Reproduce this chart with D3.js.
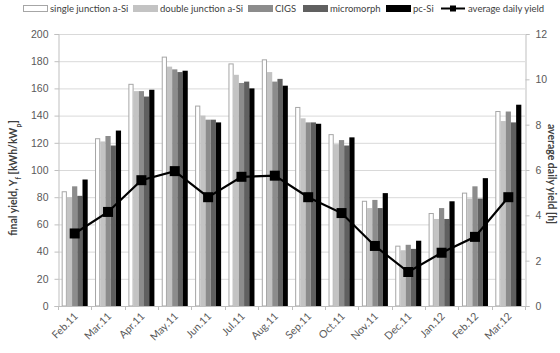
<!DOCTYPE html>
<html>
<head>
<meta charset="utf-8">
<script src="https://cdn.jsdelivr.net/npm/d3@7"></script>
<style>
  html, body { margin: 0; padding: 0; background: #fff; }
  svg { display: block; font-family: Lato, "DejaVu Sans Condensed", Arial, sans-serif; }
</style>
</head>
<body>
<svg id="chart" width="560" height="353"></svg>
<script>
// Monthly final yield per PV technology and the average daily yield
const months = ["Feb.11","Mar.11","Apr.11","May.11","Jun.11","Jul.11","Aug.11",
                "Sep.11","Oct.11","Nov.11","Dec.11","Jan.12","Feb.12","Mar.12"];
const seriesNames = ["single junction a-Si","double junction a-Si","CIGS","micromorph","pc-Si"];
const singleJunction = [84,123,163,183,147,178,181,146,126,77,44,68,83,143];
const doubleJunction = [80,121,158,176,140,170,172,138,119,72,41,64,79,136];
const cigs           = [88,125,158,174,137,164,165,135,122,78,45,72,88,143];
const micromorph     = [81,118,154,172,137,165,167,135,118,72,42,64,79,135];
const pcSi           = [93,129,159,173,135,160,162,134,124,83,48,77,94,148];
const avgDailyYield  = [3.2,4.15,5.55,5.95,4.8,5.7,5.75,4.8,4.1,2.65,1.5,2.35,3.05,4.8];
const leftTicks  = [0,20,40,60,80,100,120,140,160,180,200];
const rightTicks = [0,2,4,6,8,10,12];

const fills   = ["#ffffff","#c3c3c3","#8c8c8c","#606060","#000000"];
const strokes = ["#a6a6a6","none","none","none","none"];
const values = [singleJunction, doubleJunction, cigs, micromorph, pcSi];

const svg = d3.select("#chart");
const plotLeft = 58, plotRight = 525, plotTop = 34, plotBottom = 306;

const x0 = d3.scaleBand().domain(months).range([plotLeft, plotRight]).paddingInner(0.22).paddingOuter(0.11);
const x1 = d3.scaleBand().domain(d3.range(seriesNames.length)).range([0, x0.bandwidth()]);
const y  = d3.scaleLinear().domain([0, 200]).range([plotBottom, plotTop]);
const y2 = d3.scaleLinear().domain([0, 12]).range([plotBottom, plotTop]);

const axisColor = "#bfbfbf", gridColor = "#d9d9d9", textColor = "#595959";
const tickFont = 10.5;

// horizontal gridlines
svg.append("g").selectAll("line").data(leftTicks.filter(d => d > 0)).join("line")
  .attr("x1", plotLeft).attr("x2", plotRight)
  .attr("y1", d => y(d) + 0.5).attr("y2", d => y(d) + 0.5)
  .attr("stroke", gridColor).attr("stroke-width", 1);

// left axis
const gL = svg.append("g").attr("transform", `translate(${plotLeft + 0.5},0)`)
  .call(d3.axisLeft(y).tickValues(leftTicks).tickSize(4).tickPadding(6));
gL.select(".domain").attr("stroke", axisColor);
gL.selectAll(".tick line").attr("stroke", axisColor);
gL.selectAll(".tick text").attr("fill", textColor).attr("font-size", tickFont).attr("font-family", null);

// right axis
const gR = svg.append("g").attr("transform", `translate(${plotRight + 0.5},0)`)
  .call(d3.axisRight(y2).tickValues(rightTicks).tickSize(4).tickPadding(6));
gR.select(".domain").attr("stroke", axisColor);
gR.selectAll(".tick line").attr("stroke", axisColor);
gR.selectAll(".tick text").attr("fill", textColor).attr("font-size", tickFont).attr("font-family", null);

// bars
const groups = svg.append("g").selectAll("g").data(months).join("g")
  .attr("transform", d => `translate(${x0(d)},0)`);
groups.selectAll("rect")
  .data((m, i) => values.map((s, k) => ({ k, v: s[i] })))
  .join("rect")
  .attr("x", d => x1(d.k) + (d.k === 0 ? 0.5 : 0))
  .attr("width", d => x1.bandwidth() - (d.k === 0 ? 1 : 0))
  .attr("y", d => y(d.v))
  .attr("height", d => plotBottom - y(d.v))
  .attr("fill", d => fills[d.k])
  .attr("stroke", d => strokes[d.k])
  .attr("stroke-width", 1);

// bottom axis with ticks at category boundaries
const gB = svg.append("g");
gB.append("line").attr("x1", plotLeft).attr("x2", plotRight)
  .attr("y1", plotBottom + 0.5).attr("y2", plotBottom + 0.5).attr("stroke", axisColor);
const step = x0.step();
gB.selectAll("line.tk").data(d3.range(months.length + 1)).join("line").attr("class", "tk")
  .attr("x1", i => Math.round(plotLeft + i * step) + 0.5).attr("x2", i => Math.round(plotLeft + i * step) + 0.5)
  .attr("y1", plotBottom).attr("y2", plotBottom + 4).attr("stroke", axisColor);
gB.selectAll("text").data(months).join("text")
  .attr("transform", d => `translate(${x0(d) + x0.bandwidth() / 2 + 4},${plotBottom + 11}) rotate(-45)`)
  .attr("text-anchor", "end").attr("fill", textColor).attr("font-size", tickFont)
  .text(d => d);

// average daily yield line
const line = d3.line().x((d, i) => x0(months[i]) + x0.bandwidth() / 2).y(d => y2(d));
svg.append("path").datum(avgDailyYield).attr("d", line)
  .attr("fill", "none").attr("stroke", "#000").attr("stroke-width", 2.2);
svg.append("g").selectAll("rect").data(avgDailyYield).join("rect")
  .attr("x", (d, i) => x0(months[i]) + x0.bandwidth() / 2 - 5)
  .attr("y", d => y2(d) - 5).attr("width", 10).attr("height", 10).attr("fill", "#000");

// axis titles
svg.append("text")
  .attr("transform", `translate(17,${(plotTop + plotBottom) / 2 + 8}) rotate(-90)`)
  .attr("text-anchor", "middle").attr("font-weight", "bold").attr("font-size", 10.5).attr("fill", "#404040")
  .html('final yield, Y<tspan baseline-shift="sub" font-size="7">f</tspan> [kWh/kW<tspan baseline-shift="sub" font-size="7">p</tspan>]');
svg.append("text")
  .attr("transform", `translate(548,${(plotTop + plotBottom) / 2 + 4}) rotate(90)`)
  .attr("text-anchor", "middle").attr("font-weight", "bold").attr("font-size", 10.5).attr("fill", "#404040")
  .text("average daily yield [h]");

// legend
const legendX = [23, 133, 248, 303, 386];
const lg = svg.append("g");
seriesNames.forEach((name, k) => {
  lg.append("rect").attr("x", legendX[k] + 0.5).attr("y", 5.5).attr("width", 24).attr("height", 6)
    .attr("fill", fills[k]).attr("stroke", k === 0 ? "#a6a6a6" : fills[k]);
  lg.append("text").attr("x", legendX[k] + 27).attr("y", 12).attr("font-size", 9.5).attr("fill", "#404040").text(name);
});
lg.append("line").attr("x1", 441).attr("x2", 465).attr("y1", 8.5).attr("y2", 8.5).attr("stroke", "#000").attr("stroke-width", 2);
lg.append("rect").attr("x", 450).attr("y", 5.5).attr("width", 6).attr("height", 6).attr("fill", "#000");
lg.append("text").attr("x", 468).attr("y", 12).attr("font-size", 9.5).attr("fill", "#404040").text("average daily yield");
</script>
</body>
</html>
